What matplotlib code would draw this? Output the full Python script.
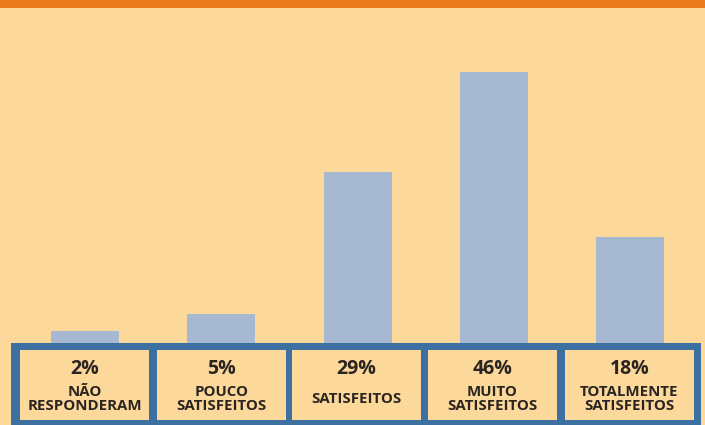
import matplotlib.pyplot as plt
from matplotlib.patches import Rectangle

categories = ['NÃO\nRESPONDERAM', 'POUCO\nSATISFEITOS', 'SATISFEITOS',
              'MUITO\nSATISFEITOS', 'TOTALMENTE\nSATISFEITOS']
values = [2, 5, 29, 46, 18]

bg = '#FDD89B'
bar_color = '#A7B8D3'
frame = '#3C70A0'
orange = '#E87A1C'
text_color = '#2B2521'

W, H = 705, 425
fig = plt.figure(figsize=(W / 100, H / 100), dpi=100)
fig.patch.set_facecolor(bg)

# bars
step = 136.25
x0 = 85
ax = fig.add_axes([0, (H - 343) / H, 1, (343 - 8) / H])
ax.set_facecolor('none')
ax.bar(range(len(values)), values, width=68 / step, color=bar_color)
ax.set_xlim(-x0 / step, (W - x0) / step)
ax.set_ylim(0, 335 / 5.9)
ax.axis('off')

# overlay in pixel coordinates
ov = fig.add_axes([0, 0, 1, 1])
ov.set_xlim(0, W)
ov.set_ylim(H, 0)
ov.axis('off')
ov.set_facecolor('none')

ov.add_patch(Rectangle((0, 0), W, 8, color=orange, lw=0))
ov.add_patch(Rectangle((11, 343), 690, 90, color=frame, lw=0))

cell_left = [20, 157, 292, 428, 565]
cell_w = 129
for i, (cat, v) in enumerate(zip(categories, values)):
    left = cell_left[i]
    ov.add_patch(Rectangle((left, 350), cell_w, 70, color=bg, lw=0))
    cx = left + cell_w / 2
    ov.text(cx, 369, f'{v}%', ha='center', va='center', fontsize=14,
            fontweight='bold', family='Open Sans', color=text_color)
    ov.text(cx, 399, cat, ha='center', va='center', fontsize=10.8,
            fontweight='bold', family='Open Sans', color=text_color,
            linespacing=1.02)

fig.savefig('out.png', dpi=100, facecolor=bg)
